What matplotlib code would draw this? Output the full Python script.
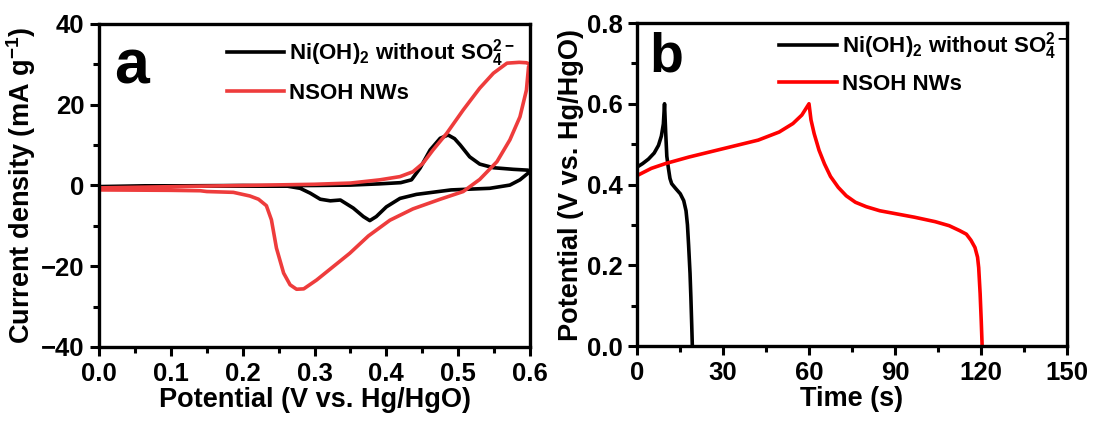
"""CV and GCD comparison of Ni(OH)2 and NSOH NWs."""

import matplotlib

matplotlib.use("Agg")
import matplotlib.pyplot as plt
from matplotlib.ticker import MultipleLocator

plt.rcParams["font.family"] = ["Liberation Sans", "DejaVu Sans"]
plt.rcParams["font.weight"] = "bold"
plt.rcParams["axes.labelweight"] = "bold"
plt.rcParams["mathtext.fontset"] = "custom"
plt.rcParams["mathtext.rm"] = "Liberation Sans:bold"
plt.rcParams["mathtext.bf"] = "Liberation Sans:bold"
plt.rcParams["mathtext.default"] = "bf"

# --- panel a: cyclic voltammetry (anodic sweep then cathodic sweep) ---
cv_black_v = [0.0, 0.1, 0.2, 0.3, 0.35, 0.39, 0.42, 0.435, 0.447, 0.461, 0.475,
              0.486, 0.495, 0.503, 0.516, 0.530, 0.549, 0.577, 0.597, 0.600,
              0.597, 0.586, 0.572, 0.544, 0.49, 0.442, 0.419, 0.400, 0.386,
              0.377, 0.368, 0.354, 0.336, 0.322, 0.308, 0.294, 0.280, 0.26,
              0.2, 0.1, 0.0]
cv_black_i = [-0.3, -0.2, -0.1, 0.0, 0.1, 0.4, 0.7, 1.4, 4.3, 8.8, 11.7,
              12.5, 11.6, 10.0, 7.1, 5.3, 4.4, 4.0, 3.8, 3.6,
              3.0, 1.4, 0.1, -0.7, -1.1, -2.2, -3.2, -5.3, -7.7,
              -8.7, -7.7, -5.6, -3.6, -3.8, -3.4, -1.9, -0.7, -0.1,
              0.0, -0.1, -0.3]

cv_red_v = [0.0, 0.1, 0.2, 0.3, 0.35, 0.391, 0.419, 0.437, 0.451, 0.465, 0.484,
            0.507, 0.530, 0.549, 0.568, 0.585, 0.595, 0.600,
            0.598, 0.595, 0.586, 0.572, 0.554, 0.530, 0.507, 0.475, 0.437,
            0.405, 0.375, 0.349, 0.326, 0.303, 0.285, 0.275, 0.266, 0.257,
            0.247, 0.240, 0.233, 0.222, 0.210, 0.187, 0.15, 0.141, 0.1, 0.0]
cv_red_i = [-0.6, -0.3, 0.0, 0.3, 0.6, 1.4, 2.2, 3.4, 5.5, 8.8, 12.9,
            18.7, 24.1, 27.8, 30.3, 30.5, 30.4, 30.0,
            29.4, 23.6, 17.0, 11.3, 5.9, 1.5, -1.5, -3.4, -5.8,
            -8.6, -12.5, -16.8, -20.1, -23.4, -25.6, -25.7, -24.6, -21.7,
            -15.5, -8.5, -5.0, -3.4, -2.6, -1.7, -1.5, -1.3, -1.2, -1.1]

# --- panel b: galvanostatic charge/discharge ---
gcd_black_t = [0.0, 2.0, 4.0, 6.0, 7.5, 8.5, 9.2, 9.6, 10.0, 10.4, 10.9, 11.5,
               12.1, 13.5, 15.1, 16.3, 17.1, 17.6, 18.0, 18.5, 18.8, 19.1, 19.3]
gcd_black_u = [0.443, 0.452, 0.463, 0.478, 0.497, 0.52, 0.55, 0.6, 0.53, 0.47,
               0.443, 0.415, 0.402, 0.39, 0.377, 0.36, 0.335, 0.30, 0.25, 0.18,
               0.12, 0.05, 0.0]

gcd_red_t = [0.0, 5.0, 10.0, 18.1, 30.2, 42.3, 49.6, 54.4, 57.5, 60.0, 60.7,
             61.8, 63.5, 65.4, 67.5, 70.2, 73.0, 76.2, 80.0, 84.7, 96.8,
             104.0, 108.9, 112.5, 114.9, 116.5, 117.9, 118.8, 119.2, 119.7,
             120.1, 120.4]
gcd_red_u = [0.422, 0.44, 0.452, 0.468, 0.489, 0.51, 0.530, 0.551, 0.572, 0.6,
             0.56, 0.526, 0.485, 0.451, 0.42, 0.393, 0.372, 0.356, 0.345, 0.335,
             0.319, 0.308, 0.298, 0.286, 0.277, 0.262, 0.244, 0.22, 0.194, 0.13,
             0.06, 0.0]

legend_labels = [r"Ni(OH)$_2$ without SO$_4^{2-}$", "NSOH NWs"]


def style_axes(ax, xmajor, xminor, ymajor, yminor):
    """Thick framed axes with outward ticks on left and bottom only."""
    for spine in ax.spines.values():
        spine.set_linewidth(2.4)
    ax.xaxis.set_major_locator(MultipleLocator(xmajor))
    ax.xaxis.set_minor_locator(MultipleLocator(xminor))
    ax.yaxis.set_major_locator(MultipleLocator(ymajor))
    ax.yaxis.set_minor_locator(MultipleLocator(yminor))
    ax.tick_params(which="both", direction="out", top=False, right=False,
                   width=2.2, labelsize=18.5, pad=4)
    ax.tick_params(which="major", length=6.5)
    ax.tick_params(which="minor", length=4)


fig = plt.figure(figsize=(10.93, 4.23), dpi=100)
ax_a = fig.add_axes([0.0906, 0.1797, 0.3943, 0.7636])
ax_b = fig.add_axes([0.5828, 0.1820, 0.3934, 0.7636])

# panel a
ax_a.plot(cv_black_v, cv_black_i, color="black", lw=2.6, label=legend_labels[0])
ax_a.plot(cv_red_v, cv_red_i, color="#ee3c3c", lw=2.6, label=legend_labels[1])
ax_a.set_xlim(0.0, 0.6)
ax_a.set_ylim(-40, 40)
style_axes(ax_a, 0.1, 0.05, 20, 10)
ax_a.set_xticklabels([f"{v:.1f}" for v in ax_a.get_xticks()])
ax_a.set_xlabel("Potential (V vs. Hg/HgO)", fontsize=19.5, labelpad=1)
ax_a.set_ylabel(r"Current density (mA g$^{-1}$)", fontsize=19.5, labelpad=2)
ax_a.text(0.035, 0.817, "a", transform=ax_a.transAxes, fontsize=45,
          fontweight="bold")
ax_a.legend(loc="upper left", bbox_to_anchor=(0.265, 1.0), frameon=False,
            fontsize=16, handlelength=2.6, handletextpad=0.2,
            labelspacing=0.6, borderaxespad=0.2)

# panel b
ax_b.plot(gcd_black_t, gcd_black_u, color="black", lw=2.6, label=legend_labels[0])
ax_b.plot(gcd_red_t, gcd_red_u, color="#ff0000", lw=2.6, label=legend_labels[1])
ax_b.set_xlim(0, 150)
ax_b.set_ylim(0.0, 0.8)
style_axes(ax_b, 30, 15, 0.2, 0.1)
ax_b.set_yticklabels([f"{v:.1f}" for v in ax_b.get_yticks()])
ax_b.set_xlabel("Time (s)", fontsize=19.5, labelpad=1)
ax_b.set_ylabel("Potential (V vs. Hg/HgO)", fontsize=19.5, labelpad=2)
ax_b.text(0.028, 0.851, "b", transform=ax_b.transAxes, fontsize=40,
          fontweight="bold")
ax_b.legend(loc="upper left", bbox_to_anchor=(0.30, 1.02), frameon=False,
            fontsize=16, handlelength=2.6, handletextpad=0.2,
            labelspacing=0.55, borderaxespad=0.2)

fig.savefig("out.png", dpi=100)
